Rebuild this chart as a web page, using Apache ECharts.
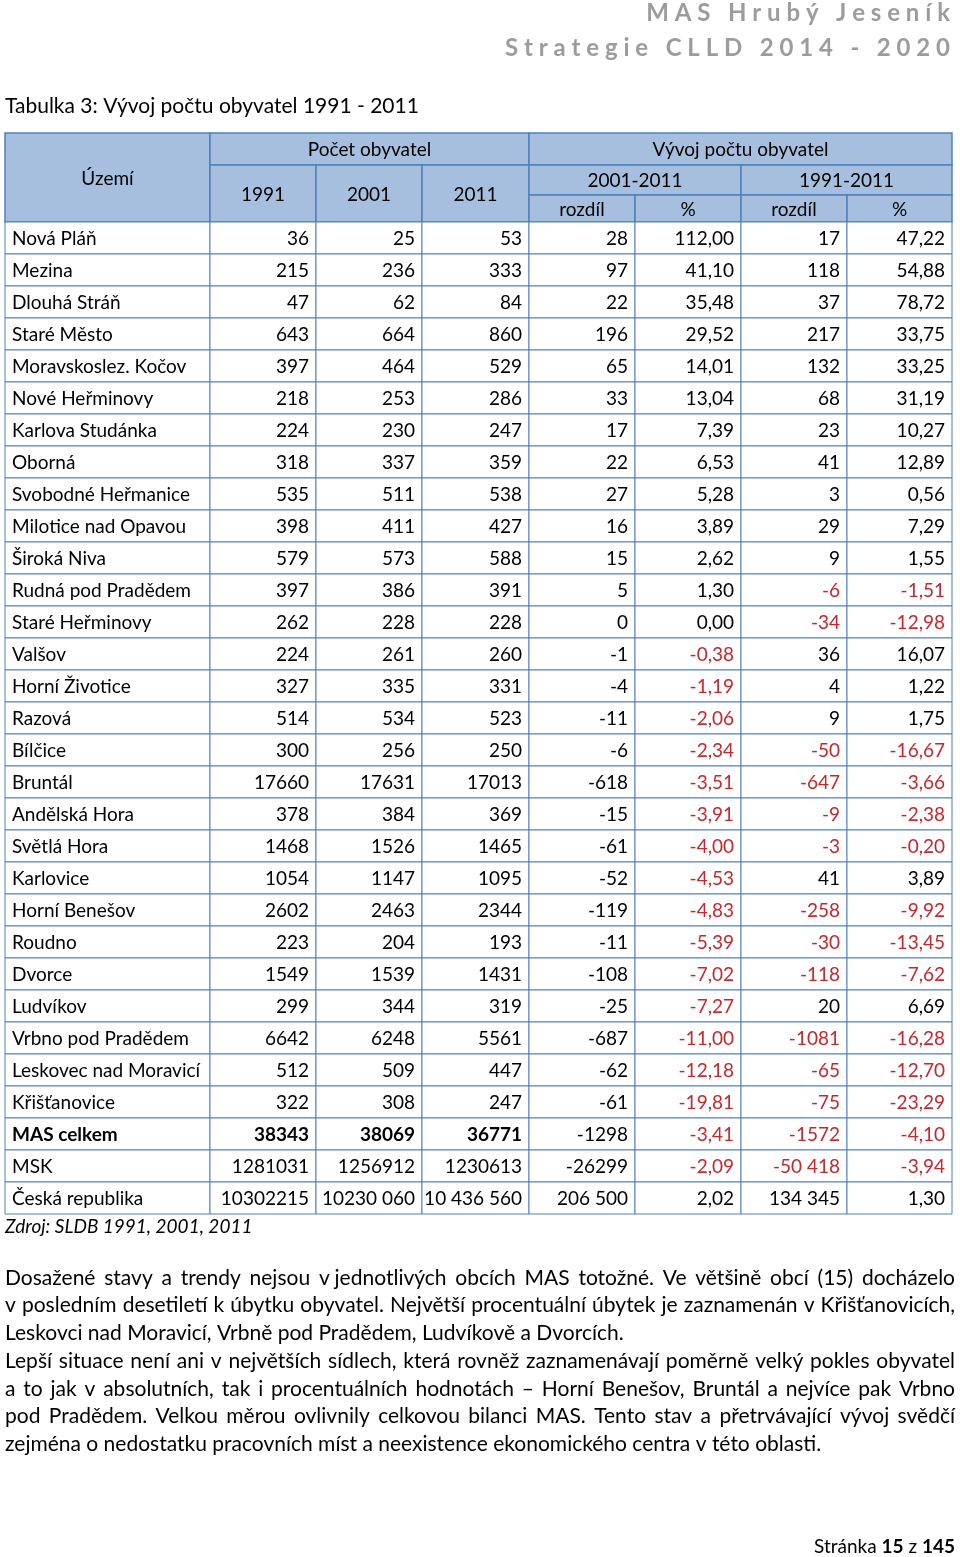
<!DOCTYPE html>
<html>
<head>
<meta charset="utf-8">
<script src="https://cdn.jsdelivr.net/npm/echarts@6.0.0/dist/echarts.min.js"></script>
<style>
  html, body { margin: 0; padding: 0; background: #fff; }
  #chart { width: 960px; height: 1557px; }
</style>
</head>
<body>
<div id="chart"></div>
<script>
// table rows
const names = ['Nová Pláň', 'Mezina', 'Dlouhá Stráň', 'Staré Město', 'Moravskoslez. Kočov', 'Nové Heřminovy',
  'Karlova Studánka', 'Oborná', 'Svobodné Heřmanice', 'Milotice nad Opavou', 'Široká Niva', 'Rudná pod Pradědem',
  'Staré Heřminovy', 'Valšov', 'Horní Životice', 'Razová', 'Bílčice', 'Bruntál', 'Andělská Hora', 'Světlá Hora',
  'Karlovice', 'Horní Benešov', 'Roudno', 'Dvorce', 'Ludvíkov', 'Vrbno pod Pradědem', 'Leskovec nad Moravicí',
  'Křišťanovice', 'MAS celkem', 'MSK', 'Česká republika'];
const pop1991 = ['36', '215', '47', '643', '397', '218', '224', '318', '535', '398', '579', '397', '262', '224', '327',
  '514', '300', '17660', '378', '1468', '1054', '2602', '223', '1549', '299', '6642', '512', '322', '38343', '1281031', '10302215'];
const pop2001 = ['25', '236', '62', '664', '464', '253', '230', '337', '511', '411', '573', '386', '228', '261', '335',
  '534', '256', '17631', '384', '1526', '1147', '2463', '204', '1539', '344', '6248', '509', '308', '38069', '1256912', '10230 060'];
const pop2011 = ['53', '333', '84', '860', '529', '286', '247', '359', '538', '427', '588', '391', '228', '260', '331',
  '523', '250', '17013', '369', '1465', '1095', '2344', '193', '1431', '319', '5561', '447', '247', '36771', '1230613', '10 436 560'];
const diff0111 = ['28', '97', '22', '196', '65', '33', '17', '22', '27', '16', '15', '5', '0', '-1', '-4',
  '-11', '-6', '-618', '-15', '-61', '-52', '-119', '-11', '-108', '-25', '-687', '-62', '-61', '-1298', '-26299', '206 500'];
const pct0111 = ['112,00', '41,10', '35,48', '29,52', '14,01', '13,04', '7,39', '6,53', '5,28', '3,89', '2,62', '1,30', '0,00', '-0,38', '-1,19',
  '-2,06', '-2,34', '-3,51', '-3,91', '-4,00', '-4,53', '-4,83', '-5,39', '-7,02', '-7,27', '-11,00', '-12,18', '-19,81', '-3,41', '-2,09', '2,02'];
const diff9111 = ['17', '118', '37', '217', '132', '68', '23', '41', '3', '29', '9', '-6', '-34', '36', '4',
  '9', '-50', '-647', '-9', '-3', '41', '-258', '-30', '-118', '20', '-1081', '-65', '-75', '-1572', '-50 418', '134 345'];
const pct9111 = ['47,22', '54,88', '78,72', '33,75', '33,25', '31,19', '10,27', '12,89', '0,56', '7,29', '1,55', '-1,51', '-12,98', '16,07', '1,22',
  '1,75', '-16,67', '-3,66', '-2,38', '-0,20', '3,89', '-9,92', '-13,45', '-7,62', '6,69', '-16,28', '-12,70', '-23,29', '-4,10', '-3,94', '1,30'];

const columns = [names, pop1991, pop2001, pop2011, diff0111, pct0111, diff9111, pct9111];
const redCols = [5, 6, 7];   // negative values shown in red
const boldRow = 28;          // MAS celkem

// header cells: [col from, col to, row from, row to, text]
const headerCells = [
  [0, 1, 0, 3, 'Území'],
  [1, 4, 0, 1, 'Počet obyvatel'],
  [1, 2, 1, 3, '1991'], [2, 3, 1, 3, '2001'], [3, 4, 1, 3, '2011'],
  [4, 8, 0, 1, 'Vývoj počtu obyvatel'],
  [4, 6, 1, 2, '2001-2011'], [6, 8, 1, 2, '1991-2011'],
  [4, 5, 2, 3, 'rozdíl'], [5, 6, 2, 3, '%'], [6, 7, 2, 3, 'rozdíl'], [7, 8, 2, 3, '%']
];

const paragraphs = [
  ['Dosažené stavy a trendy nejsou v\u00a0jednotlivých obcích MAS totožné. Ve většině obcí (15) docházelo',
   'v posledním desetiletí k úbytku obyvatel. Největší procentuální úbytek je zaznamenán v Křišťanovicích,',
   'Leskovci nad Moravicí, Vrbně pod Pradědem, Ludvíkově a Dvorcích.'],
  ['Lepší situace není ani v největších sídlech, která rovněž zaznamenávají poměrně velký pokles obyvatel',
   'a to jak v absolutních, tak i procentuálních hodnotách – Horní Benešov, Bruntál a nejvíce pak Vrbno',
   'pod Pradědem. Velkou měrou ovlivnily celkovou bilanci MAS. Tento stav a přetrvávající vývoj svědčí',
   'zejména o nedostatku pracovních míst a neexistence ekonomického centra v této oblasti.']
];

// layout
const FONT = 'Lato';
const colEdges = [0, 205, 311, 417, 524, 630, 736, 842, 947];
const headEdges = [0, 32, 62, 89];
const BORDER = '#4f81bd';
const HEAD_FILL = '#a7bfde';
const RED = '#c9262c';

const cells = [];
columns.forEach((col, c) => col.forEach((v, r) => cells.push({ c, r, v })));

const myChart = echarts.init(document.getElementById('chart'), null, { renderer: 'canvas' });

// justify paragraph lines with word placement
const ctx = document.createElement('canvas').getContext('2d');
const PFONT = '21px ' + FONT;
ctx.font = PFONT;
const textEls = [];
let lineY = 1278;
paragraphs.forEach(lines => {
  lines.forEach((line, i) => {
    const last = i === lines.length - 1;
    if (last) {
      textEls.push({ type: 'text', x: 5, y: lineY, style: { text: line, font: PFONT, fill: '#000', align: 'left', verticalAlign: 'middle' } });
    } else {
      const words = line.split(' ');
      const widths = words.map(w => ctx.measureText(w).width);
      const total = widths.reduce((a, b) => a + b, 0);
      const gap = (955 - 5 - total) / (words.length - 1);
      let x = 5;
      words.forEach((w, k) => {
        textEls.push({ type: 'text', x: x, y: lineY, style: { text: w, font: PFONT, fill: '#000', align: 'left', verticalAlign: 'middle' } });
        x += widths[k] + gap;
      });
    }
    lineY += 27.7;
  });
});

const spaced = s => s.split('').join(' ');

const option = {
  animation: false,
  grid: [
    { left: 5, width: 947, top: 133, height: 89 },
    { left: 5, width: 947, top: 222, height: 992 }
  ],
  xAxis: [
    { type: 'value', gridIndex: 0, min: 0, max: 947, show: false },
    { type: 'value', gridIndex: 1, min: 0, max: 947, show: false }
  ],
  yAxis: [
    { type: 'value', gridIndex: 0, min: 0, max: 89, inverse: true, show: false },
    { type: 'category', gridIndex: 1, data: names, inverse: true, show: false }
  ],
  graphic: [
    { type: 'text', x: 950, y: 13, style: { text: spaced('MAS Hrubý Jeseník'), font: 'bold 24px ' + FONT, fill: '#9c9c9c', align: 'right', verticalAlign: 'middle' } },
    { type: 'text', x: 950, y: 48, style: { text: spaced('Strategie CLLD 2014 - 2020'), font: 'bold 24px ' + FONT, fill: '#9c9c9c', align: 'right', verticalAlign: 'middle' } },
    { type: 'text', x: 5, y: 106, style: { text: 'Tabulka 3: Vývoj počtu obyvatel 1991 - 2011', font: '21px ' + FONT, fill: '#000', verticalAlign: 'middle' } },
    { type: 'text', x: 5, y: 1227, style: { text: 'Zdroj: SLDB 1991, 2001, 2011', font: 'italic 19px ' + FONT, fill: '#000', verticalAlign: 'middle' } },
    { type: 'text', x: 955, y: 1547, style: {
        text: 'Stránka {b|15} z {b|145}', font: '19px ' + FONT, fill: '#000', align: 'right', verticalAlign: 'middle',
        rich: { b: { fontWeight: 'bold', fontSize: 19, fontFamily: FONT } } } }
  ].concat(textEls),
  series: [
    {
      type: 'custom',
      xAxisIndex: 0, yAxisIndex: 0,
      data: headerCells.map(h => [colEdges[h[0]], headEdges[h[2]]]),
      renderItem: (params, api) => {
        const h = headerCells[params.dataIndex];
        const p0 = api.coord([colEdges[h[0]], headEdges[h[2]]]);
        const p1 = api.coord([colEdges[h[1]], headEdges[h[3]]]);
        return {
          type: 'group',
          children: [
            { type: 'rect', shape: { x: p0[0], y: p0[1], width: p1[0] - p0[0], height: p1[1] - p0[1] },
              style: { fill: HEAD_FILL, stroke: BORDER, lineWidth: 1.5 } },
            { type: 'text', style: { text: h[4], x: (p0[0] + p1[0]) / 2, y: (p0[1] + p1[1]) / 2 + 1,
              align: 'center', verticalAlign: 'middle', font: '19px ' + FONT, fill: '#000' } }
          ]
        };
      }
    },
    {
      type: 'custom',
      xAxisIndex: 1, yAxisIndex: 1,
      data: cells.map(d => [colEdges[d.c], d.r]),
      renderItem: (params, api) => {
        const d = cells[params.dataIndex];
        const yc = api.coord([0, d.r])[1];
        const h = api.size([0, 1])[1];
        const x0 = api.coord([colEdges[d.c], d.r])[0];
        const x1 = api.coord([colEdges[d.c + 1], d.r])[0];
        const neg = d.v.charAt(0) === '-';
        const bold = d.r === boldRow && d.c < 4;
        return {
          type: 'group',
          children: [
            { type: 'rect', shape: { x: x0, y: yc - h / 2, width: x1 - x0, height: h },
              style: { fill: '#fff', stroke: BORDER, lineWidth: 1 } },
            { type: 'text', style: { text: d.v, x: d.c === 0 ? x0 + 7 : x1 - 7, y: yc + 1,
              align: d.c === 0 ? 'left' : 'right', verticalAlign: 'middle',
              font: (bold ? 'bold ' : '') + '19px ' + FONT,
              fill: neg && redCols.includes(d.c) ? RED : '#000' } }
          ]
        };
      }
    }
  ]
};

myChart.setOption(option);
</script>
</body>
</html>
